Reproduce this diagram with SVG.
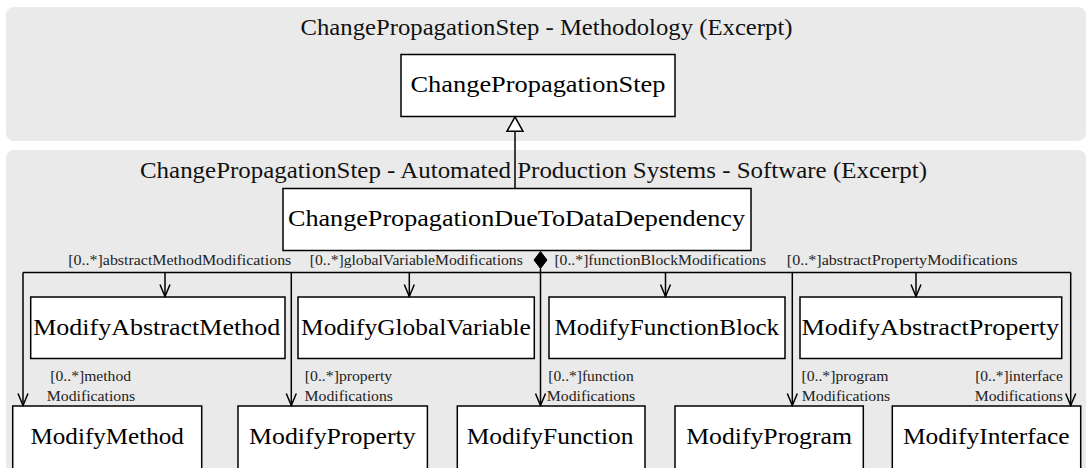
<svg xmlns="http://www.w3.org/2000/svg" width="1088" height="468" viewBox="0 0 1088 468" font-family="Liberation Serif, DejaVu Serif, Times New Roman, serif">
  <style>
    .panel { fill: #eaeaea; stroke: none; }
    .box { fill: #ffffff; stroke: #000000; stroke-width: 1.5; }
    .name { font-size: 24px; fill: #000000; text-anchor: middle; }
    .title { font-size: 22.5px; fill: #111111; text-anchor: middle; }
    .role { font-size: 15px; fill: #222222; }
    .mid { text-anchor: middle; }
    .line { fill: none; stroke: #000000; stroke-width: 1.5; }
  </style>
  <defs>
    <marker id="open" viewBox="0 0 14 12" refX="12.5" refY="6" markerWidth="14" markerHeight="12" markerUnits="userSpaceOnUse" orient="auto">
      <path d="M0.5,1 L12.5,6 L0.5,11" fill="none" stroke="#000000" stroke-width="1.5"/>
    </marker>
  </defs>

  <g id="panel-methodology">
    <rect class="panel" x="6" y="7" width="1080" height="134" rx="8"/>
    <text class="title" x="546.5" y="35" textLength="492" lengthAdjust="spacingAndGlyphs">ChangePropagationStep - Methodology (Excerpt)</text>
  </g>

  <g id="panel-aps">
    <rect class="panel" x="6" y="150" width="1080" height="340" rx="8"/>
    <text class="title" x="533.5" y="178" textLength="787" lengthAdjust="spacingAndGlyphs">ChangePropagationStep - Automated Production Systems - Software (Excerpt)</text>
  </g>

  <g id="node-ChangePropagationStep">
    <rect class="box" x="401" y="54.5" width="274" height="62"/>
    <text class="name" x="538" y="92" textLength="255" lengthAdjust="spacingAndGlyphs">ChangePropagationStep</text>
  </g>

  <g id="node-ChangePropagationDueToDataDependency">
    <rect class="box" x="283" y="188.5" width="468" height="62"/>
    <text class="name" x="516.5" y="226" textLength="457" lengthAdjust="spacingAndGlyphs">ChangePropagationDueToDataDependency</text>
  </g>

  <g id="node-ModifyAbstractMethod">
    <rect class="box" x="30.7" y="297" width="254.3" height="61.5"/>
    <text class="name" x="156.7" y="335" textLength="247" lengthAdjust="spacingAndGlyphs">ModifyAbstractMethod</text>
  </g>
  <g id="node-ModifyGlobalVariable">
    <rect class="box" x="298" y="297" width="236.3" height="61.5"/>
    <text class="name" x="416" y="335" textLength="229.8" lengthAdjust="spacingAndGlyphs">ModifyGlobalVariable</text>
  </g>
  <g id="node-ModifyFunctionBlock">
    <rect class="box" x="549" y="297" width="236" height="61.5"/>
    <text class="name" x="666.8" y="335" textLength="224.8" lengthAdjust="spacingAndGlyphs">ModifyFunctionBlock</text>
  </g>
  <g id="node-ModifyAbstractProperty">
    <rect class="box" x="800" y="297" width="261.7" height="61.5"/>
    <text class="name" x="930.3" y="335" textLength="257.7" lengthAdjust="spacingAndGlyphs">ModifyAbstractProperty</text>
  </g>

  <g id="node-ModifyMethod">
    <rect class="box" x="12.7" y="406" width="189" height="64"/>
    <text class="name" x="107.2" y="444" textLength="153.4" lengthAdjust="spacingAndGlyphs">ModifyMethod</text>
  </g>
  <g id="node-ModifyProperty">
    <rect class="box" x="238" y="406" width="189.4" height="64"/>
    <text class="name" x="332.3" y="444" textLength="166.6" lengthAdjust="spacingAndGlyphs">ModifyProperty</text>
  </g>
  <g id="node-ModifyFunction">
    <rect class="box" x="457.3" y="406" width="187.7" height="64"/>
    <text class="name" x="550.1" y="444" textLength="166.8" lengthAdjust="spacingAndGlyphs">ModifyFunction</text>
  </g>
  <g id="node-ModifyProgram">
    <rect class="box" x="675" y="406" width="188.3" height="64"/>
    <text class="name" x="769.1" y="444" textLength="165.8" lengthAdjust="spacingAndGlyphs">ModifyProgram</text>
  </g>
  <g id="node-ModifyInterface">
    <rect class="box" x="892.3" y="406" width="188.4" height="64"/>
    <text class="name" x="986.3" y="444" textLength="166.6" lengthAdjust="spacingAndGlyphs">ModifyInterface</text>
  </g>

  <g id="connectors">
    <line class="line" x1="515" y1="131.3" x2="515" y2="188.5"/>
    <polygon points="515,116.8 523,131.3 507,131.3" fill="#ffffff" stroke="#000000" stroke-width="1.5"/>

    <polygon points="540.5,251.5 547,260 540.5,268.5 534,260" fill="#000000" stroke="#000000" stroke-width="1"/>
    <line class="line" x1="23" y1="272.5" x2="1070.7" y2="272.5"/>
    <line class="line" x1="540.5" y1="268.5" x2="540.5" y2="405.5" marker-end="url(#open)"/>
    <path class="line" d="M23,272.5 V405.5" marker-end="url(#open)"/>
    <path class="line" d="M291.3,272.5 V405.5" marker-end="url(#open)"/>
    <path class="line" d="M792.3,272.5 V405.5" marker-end="url(#open)"/>
    <path class="line" d="M1070.7,272.5 V405.5" marker-end="url(#open)"/>
    <path class="line" d="M165,272.5 V296.5" marker-end="url(#open)"/>
    <path class="line" d="M409.3,272.5 V296.5" marker-end="url(#open)"/>
    <path class="line" d="M665.5,272.5 V296.5" marker-end="url(#open)"/>
    <path class="line" d="M916,272.5 V296.5" marker-end="url(#open)"/>

    <text class="role" x="68.3" y="265" textLength="223" lengthAdjust="spacingAndGlyphs">[0..*]abstractMethodModifications</text>
    <text class="role" x="309.8" y="265" textLength="213" lengthAdjust="spacingAndGlyphs">[0..*]globalVariableModifications</text>
    <text class="role" x="554.4" y="265" textLength="211.6" lengthAdjust="spacingAndGlyphs">[0..*]functionBlockModifications</text>
    <text class="role" x="786.8" y="265" textLength="230.7" lengthAdjust="spacingAndGlyphs">[0..*]abstractPropertyModifications</text>

    <text class="role mid" x="90.7" y="381" textLength="80.7" lengthAdjust="spacingAndGlyphs">[0..*]method</text>
    <text class="role mid" x="91" y="401" textLength="88.5" lengthAdjust="spacingAndGlyphs">Modifications</text>
    <text class="role mid" x="348.5" y="381" textLength="87.4" lengthAdjust="spacingAndGlyphs">[0..*]property</text>
    <text class="role mid" x="348.8" y="401" textLength="88.4" lengthAdjust="spacingAndGlyphs">Modifications</text>
    <text class="role mid" x="591" y="381" textLength="85.3" lengthAdjust="spacingAndGlyphs">[0..*]function</text>
    <text class="role mid" x="591" y="401" textLength="88.4" lengthAdjust="spacingAndGlyphs">Modifications</text>
    <text class="role mid" x="845" y="381" textLength="87.1" lengthAdjust="spacingAndGlyphs">[0..*]program</text>
    <text class="role mid" x="846" y="401" textLength="88.4" lengthAdjust="spacingAndGlyphs">Modifications</text>
    <text class="role mid" x="1019" y="381" textLength="87.7" lengthAdjust="spacingAndGlyphs">[0..*]interface</text>
    <text class="role mid" x="1018.8" y="401" textLength="88" lengthAdjust="spacingAndGlyphs">Modifications</text>
  </g>
</svg>
